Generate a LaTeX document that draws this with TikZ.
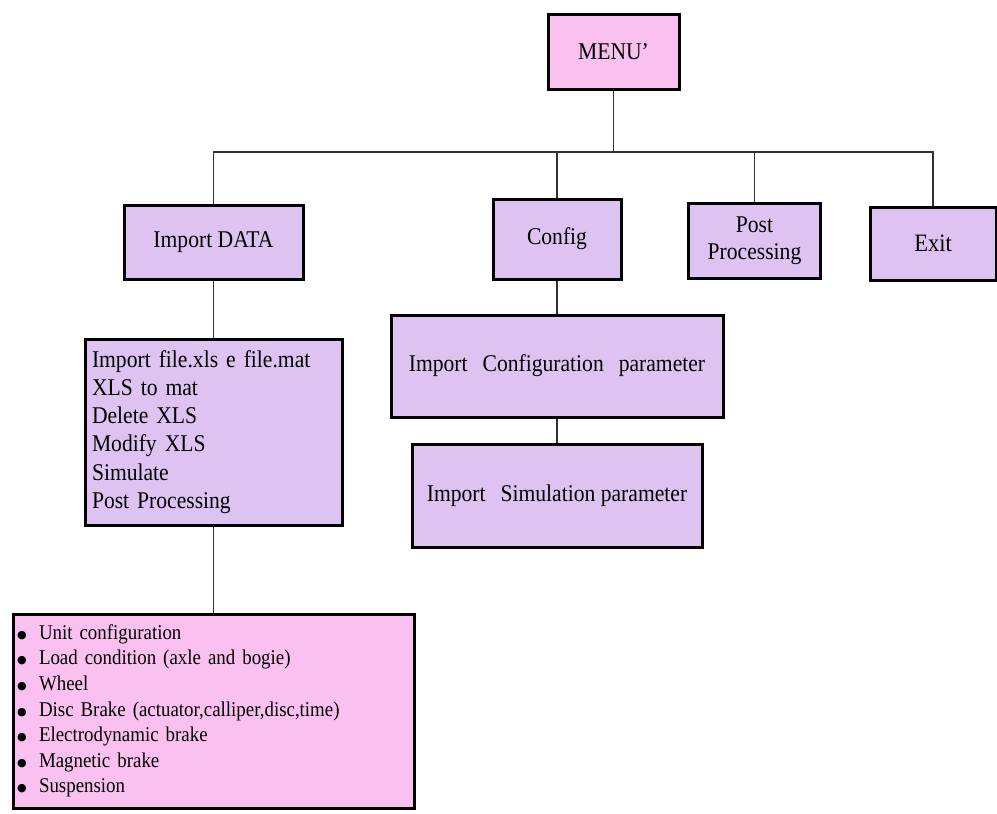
\documentclass[tikz,border=0pt]{standalone}
\usepackage{fontspec}
\setmainfont{Liberation Serif}[FakeStretch=0.9]
\newfontfamily\djv{DejaVu Sans}
\definecolor{boxpink}{RGB}{250,192,240}
\definecolor{boxlav}{RGB}{222,194,242}
\definecolor{linegray}{RGB}{50,50,50}
\newcommand{\blt}{\makebox[22pt][l]{\raisebox{1pt}{\djv\fontsize{11}{11}\selectfont ●}}}
\begin{document}
\begin{tikzpicture}[x=1pt,y=-1pt,
  box/.style={draw=black,line width=3pt,rectangle,inner sep=0pt,align=center,font=\fontsize{24}{27}\selectfont},
  lav/.style={box,fill=boxlav},
  pink/.style={box,fill=boxpink},
  conn/.style={draw=linegray,line width=1.5pt}]
\useasboundingbox (0,0) rectangle (997,814);
\node[pink,minimum width=131pt,minimum height=75pt,font=\fontsize{24}{27}\selectfont] (menu) at (613.5,51.5) {MENU'};
\node[lav,minimum width=179pt,minimum height=74pt] (imp) at (213.5,242) {Import DATA};
\node[lav,minimum width=128pt,minimum height=80pt] (cfg) at (557,239) {Config};
\node[lav,minimum width=132pt,minimum height=75pt] (pp) at (754.5,240.5) {Post\\Processing};
\node[lav,minimum width=126pt,minimum height=73pt,font=\fontsize{25}{27}\selectfont] (exit) at (933,243.5) {Exit};
\node[lav,minimum width=257pt,minimum height=186pt,align=left,text width=243pt,font=\fontsize{24}{28.2}\selectfont] (implist) at (213.5,432) {Import file.xls e file.mat\\XLS to mat\\Delete XLS\\Modify XLS\\Simulate\\Post Processing};
\node[lav,minimum width=332pt,minimum height=102pt] (cfgp) at (557,366) {Import\hspace{0.4em} Configuration\hspace{0.4em} parameter};
\node[lav,minimum width=290pt,minimum height=103pt] (simp) at (557,495.5) {Import\hspace{0.4em} Simulation parameter};
\node[pink,minimum width=401pt,minimum height=194pt,align=left,text width=393pt,font=\fontsize{21}{25.6}\selectfont] (blist) at (213.5,711) {%
\blt Unit configuration\\
\blt Load condition (axle and bogie)\\
\blt Wheel\\
\blt Disc Brake (actuator,calliper,disc,time)\\
\blt Electrodynamic brake\\
\blt Magnetic brake\\
\blt Suspension};
\coordinate (bus) at (0,152);
\draw[conn] (menu.south) -- (menu.south |- bus);
\draw[conn] (imp.north) -- (imp.north |- bus) -- (exit.north |- bus) -- (exit.north);
\draw[conn] (cfg.north) -- (cfg.north |- bus);
\draw[conn] (pp.north) -- (pp.north |- bus);
\draw[conn] (imp.south) -- (implist.north);
\draw[conn] (implist.south) -- (blist.north);
\draw[conn] (cfg.south) -- (cfgp.north);
\draw[conn] (cfgp.south) -- (simp.north);
\end{tikzpicture}
\end{document}
